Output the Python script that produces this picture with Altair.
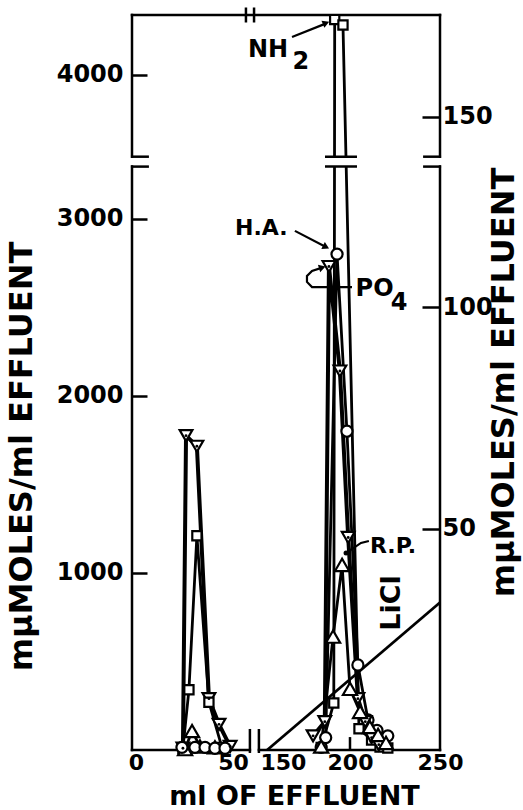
import altair as alt
import pandas as pd

# ---------------- values ----------------
# second peak (ml of effluent, mμmoles/ml on the left scale)
nh2_ml = [184, 191, 191.5, 196.1, 205, 212, 216.7, 221]
nh2_val = [15, 265, 4310, 4280, 120, 56, 17, 11]
ha_ml = [184, 186.5, 192.8, 198.3, 204.4, 210, 215, 221]
ha_val = [15, 70, 2800, 1800, 480, 170, 110, 80]
po4_ml = [179.5, 186, 188.3, 194.4, 199, 204.4, 208.5, 212, 216]
po4_val = [80, 160, 2730, 2140, 1200, 290, 160, 70, 30]
rp_ml = [184, 190.6, 195.6, 200, 205.6, 211, 215.6, 220]
rp_val = [20, 640, 1045, 345, 215, 130, 85, 40]

# first peak
p1_po4_ml = [24.2, 25.8, 31.4, 37.6, 42.8, 48.5]
p1_po4_val = [10, 1775, 1715, 290, 145, 20]
p1_nh2_ml = [24.2, 27.3, 31.4, 37.6, 44.3]
p1_nh2_val = [10, 340, 1210, 270, 15]
p1_rp_ml = [25.3, 28.9, 33, 40.7]
p1_rp_val = [5, 107, 20, 15]
p1_ha_ml = [23.7, 30.4, 35.6, 40.7, 45.9]
p1_ha_val = [15, 15, 15, 10, 10]

# LiCl gradient (right-hand scale)
licl_ml = [154, 250]
licl_val = [0, 33.3]

series_names = ["NH2", "HA", "PO4", "RP"]
series_shapes = ["square", "circle", "triangle-down", "triangle-up"]
series_sizes = [85, 200, 150, 150]

# tick values
left_ticks = [1000, 2000, 3000, 4000]
right_ticks = [50, 100, 150]
bottom_ticks_ml = [0, 50, 150, 200, 250]
bottom_inner_tick_ml = [200]

# ---------------- broken-axis geometry ----------------
LEFT_STRETCH = 1.078      # first segment (0-58 ml) drawn slightly wider
RIGHT_SHIFT = 81.1        # 150 ml sits just after the x break
ML_SPLIT = 100
V_BREAK = 3294            # top of lower y segment
V_GAP_HI = 3350           # bottom of upper y segment (display units)
V_SKIP = 186              # left-scale values skipped by the y break
RIGHT_FACTOR = 25         # right scale unit in left-scale units
RIGHT_SKIP = 174
U_MIN, U_MAX = -2.2, 168.9
V_MAX = 4150
U_GAP_LO, U_GAP_HI = 63.3, 68.3

U_EXPR = f"datum.ml < {ML_SPLIT} ? datum.ml * {LEFT_STRETCH} : datum.ml - {RIGHT_SHIFT}"
V_EXPR = f"datum.val <= {V_BREAK} ? datum.val : datum.val - {V_SKIP}"

FONT = "DejaVu Sans"

rows = []
def add(series, peak, mls, vals):
    for m, v in zip(mls, vals):
        rows.append({"series": series, "key": f"{series}-{peak}", "ml": m, "val": v})

add("NH2", 2, nh2_ml, nh2_val)
add("HA", 2, ha_ml, ha_val)
add("PO4", 2, po4_ml, po4_val)
add("RP", 2, rp_ml, rp_val)
add("PO4", 1, p1_po4_ml, p1_po4_val)
add("NH2", 1, p1_nh2_ml, p1_nh2_val)
add("RP", 1, p1_rp_ml, p1_rp_val)
add("HA", 1, p1_ha_ml, p1_ha_val)
series_df = pd.DataFrame(rows)

x_scale = alt.Scale(domain=[U_MIN, U_MAX], nice=False, zero=False)
y_scale = alt.Scale(domain=[0, V_MAX], nice=False, zero=False)

def ml_to_u(m):
    return m * LEFT_STRETCH if m < ML_SPLIT else m - RIGHT_SHIFT

def left_to_v(val):
    return val if val <= V_BREAK else val - V_SKIP

def right_to_v(r):
    v = r * RIGHT_FACTOR
    return v if v <= V_BREAK else v - RIGHT_SKIP

bottom_axis = alt.Axis(
    orient="bottom", values=[ml_to_u(m) for m in bottom_ticks_ml],
    labelExpr=f"datum.value < 60 ? round(datum.value / {LEFT_STRETCH}) : round(datum.value + {RIGHT_SHIFT})",
    labelAlign={"condition": {"test": "datum.value > 60 && datum.value < 80", "value": "left"}, "value": "center"},
    domain=False, ticks=False, grid=False, labelPadding=2,
    labelFont=FONT, labelFontSize=22, labelFontWeight="bold", labelColor="black",
    title="ml OF EFFLUENT", titleFont=FONT, titleFontSize=27, titleFontWeight="bold",
    titleColor="black", titleX=162, titleY=46, titleAlign="center", titleBaseline="middle",
)

left_axis = alt.Axis(
    orient="left", values=[left_to_v(t) for t in left_ticks],
    labelExpr=f"datum.value <= {V_BREAK} ? datum.value : datum.value + {V_SKIP}",
    domain=False, ticks=False, labelPadding=9, labelBaseline="middle",
    labelFont=FONT, labelFontSize=24, labelFontWeight="bold", labelColor="black",
    grid=True, gridColor="black", gridWidth=2.5, gridDash=[15, 2000], gridOpacity=1,
    title="mμMOLES/ml EFFLUENT", titleFont=FONT, titleFontSize=32, titleFontWeight="bold",
    titleColor="black", titleAngle=270, titleAlign="center", titleBaseline="middle",
    titleX=-111, titleY=441,
)

right_axis = alt.Axis(
    orient="right", values=[right_to_v(t) for t in right_ticks],
    labelExpr=f"datum.value <= {V_BREAK} ? round(datum.value / {RIGHT_FACTOR}) : round((datum.value + {RIGHT_SKIP}) / {RIGHT_FACTOR})",
    domain=False, ticks=False, labelPadding=2, labelBaseline="middle",
    labelFont=FONT, labelFontSize=24, labelFontWeight="bold", labelColor="black",
    grid=True, gridColor="black", gridWidth=2.5, gridDash=[18, 2000], gridOpacity=1,
    title="mμMOLES/ml EFFLUENT", titleFont=FONT, titleFontSize=32, titleFontWeight="bold",
    titleColor="black", titleAngle=270, titleAlign="center", titleBaseline="middle",
    titleX=63, titleY=367,
)

def X(field="u", axis=None):
    return alt.X(f"{field}:Q", scale=x_scale, axis=axis)

def Y(field="v", axis=None):
    return alt.Y(f"{field}:Q", scale=y_scale, axis=axis)

base = alt.Chart(series_df).transform_calculate(u=U_EXPR, v=V_EXPR)

lines = base.mark_line(color="black", strokeJoin="round").encode(
    x=X(axis=bottom_axis), y=Y(axis=left_axis),
    detail="key:N", order="ml:Q",
    strokeWidth={"condition": {"test": "datum.series == 'PO4'", "value": 4}, "value": 2.8},
)

points = base.mark_point(filled=True, fill="white", stroke="black", strokeWidth=2.2, opacity=1).encode(
    x=X(), y=Y(),
    shape=alt.Shape("series:N", scale=alt.Scale(domain=series_names, range=series_shapes), legend=None),
    size=alt.Size("series:N", scale=alt.Scale(domain=series_names, range=series_sizes), legend=None),
)

dots = base.transform_filter("datum.series == 'PO4'").mark_point(
    filled=True, color="black", shape="circle", size=8, opacity=1
).encode(x=X(), y=Y())

# y-break band and marks
band_df = pd.DataFrame({"u1": [U_MIN - 3], "u2": [U_MAX + 3], "v1": [V_BREAK], "v2": [V_GAP_HI]})
band = alt.Chart(band_df).mark_rect(color="white").encode(
    x=X("u1"), x2="u2", y=Y("v1"), y2="v2")

frame_df = pd.DataFrame([
    {"u1": U_MIN, "v1": 0, "u2": U_MIN, "v2": V_BREAK},
    {"u1": U_MIN, "v1": V_GAP_HI, "u2": U_MIN, "v2": V_MAX},
    {"u1": U_MAX, "v1": 0, "u2": U_MAX, "v2": V_BREAK},
    {"u1": U_MAX, "v1": V_GAP_HI, "u2": U_MAX, "v2": V_MAX},
    {"u1": U_MIN, "v1": 0, "u2": U_GAP_LO, "v2": 0},
    {"u1": U_GAP_HI, "v1": 0, "u2": U_MAX, "v2": 0},
    {"u1": U_MIN, "v1": V_MAX, "u2": U_MAX, "v2": V_MAX},
])
frame = alt.Chart(frame_df).mark_rule(color="black", strokeWidth=2.5, strokeCap="square").encode(
    x=X("u1"), x2="u2", y=Y("v1"), y2="v2")

hbreak_df = pd.DataFrame([
    {"u": U_MIN + 4.4, "v": V_BREAK, "len": 18}, {"u": U_MIN + 4.4, "v": V_GAP_HI, "len": 18},
    {"u": U_MAX - 4.4, "v": V_BREAK, "len": 18}, {"u": U_MAX - 4.4, "v": V_GAP_HI, "len": 18},
    {"u": 113.9, "v": V_BREAK, "len": 32}, {"u": 113.9, "v": V_GAP_HI, "len": 32},
])
hbreak = alt.Chart(hbreak_df).mark_tick(orient="horizontal", color="black", thickness=2.5, opacity=1).encode(
    x=X(), y=Y(), size=alt.Size("len:Q", scale=None))

vbreak_df = pd.DataFrame([
    {"u": U_GAP_LO, "v": 51, "len": 24}, {"u": U_GAP_HI, "v": 51, "len": 24},
    {"u": 61.1, "v": V_MAX, "len": 15}, {"u": 65.6, "v": V_MAX, "len": 15},
])
vbreak = alt.Chart(vbreak_df).mark_tick(orient="vertical", color="black", thickness=2.5, opacity=1).encode(
    x=X(), y=Y(), size=alt.Size("len:Q", scale=None))

inner_tick = alt.Chart(pd.DataFrame({"ml": bottom_inner_tick_ml})).transform_calculate(
    u=U_EXPR, v0="0", v1="73").mark_rule(color="black", strokeWidth=2.5).encode(
    x=X(), y=Y("v0"), y2="v1")

# LiCl line, carries the right-hand axis
licl_df = pd.DataFrame({"ml": licl_ml, "r": licl_val})
licl = alt.Chart(licl_df).transform_calculate(
    u=U_EXPR, v=f"datum.r * {RIGHT_FACTOR}").mark_line(color="black", strokeWidth=2.8).encode(
    x=X(), y=Y(axis=right_axis))

# annotations (display units)
ann_df = pd.DataFrame([
    {"u": 62.2, "v": 3953, "text": "NH", "fs": 24},
    {"u": 87.0, "v": 3885, "text": "2", "fs": 24},
    {"u": 55.0, "v": 2947, "text": "H.A.", "fs": 22},
    {"u": 122.0, "v": 2603, "text": "PO", "fs": 24},
    {"u": 141.5, "v": 2525, "text": "4", "fs": 24},
    {"u": 130.0, "v": 1152, "text": "R.P.", "fs": 22},
])
ann = alt.Chart(ann_df).mark_text(font=FONT, fontWeight="bold", align="left", baseline="middle", color="black").encode(
    x=X(), y=Y(), text="text:N", size=alt.Size("fs:Q", scale=None))

licl_lab = alt.Chart(pd.DataFrame({"u": [142.2], "v": [830], "text": ["LiCl"]})).mark_text(
    font=FONT, fontWeight="bold", fontSize=27, angle=270, align="center", baseline="middle", color="black"
).encode(x=X(), y=Y(), text="text:N")

leader_df = pd.DataFrame([
    {"id": "nh2", "i": 0, "u": 86.7, "v": 4026}, {"id": "nh2", "i": 1, "u": 105.0, "v": 4100},
    {"id": "ha", "i": 0, "u": 88.3, "v": 2931}, {"id": "ha", "i": 1, "u": 105.0, "v": 2843},
    {"id": "po4", "i": 0, "u": 120.0, "v": 2614}, {"id": "po4", "i": 1, "u": 97.8, "v": 2614},
    {"id": "po4", "i": 2, "u": 95.0, "v": 2643}, {"id": "po4", "i": 3, "u": 95.0, "v": 2676},
    {"id": "po4", "i": 4, "u": 97.8, "v": 2705}, {"id": "po4", "i": 5, "u": 103.0, "v": 2722},
    {"id": "rp", "i": 0, "u": 129.4, "v": 1180}, {"id": "rp", "i": 1, "u": 125.0, "v": 1169},
    {"id": "rp", "i": 2, "u": 116.7, "v": 1112},
])
leaders = alt.Chart(leader_df).mark_line(color="black", strokeWidth=2.2).encode(
    x=X(), y=Y(), detail="id:N", order="i:Q")

head_df = pd.DataFrame([
    {"u": 105.6, "v": 4105, "ang": 68},
    {"u": 105.6, "v": 2840, "ang": 117},
    {"u": 103.5, "v": 2724, "ang": 73},
])
heads = alt.Chart(head_df).mark_point(shape="triangle-up", filled=True, color="black", size=60, opacity=1).encode(
    x=X(), y=Y(), angle=alt.Angle("ang:Q", scale=None))

rp_dot = alt.Chart(pd.DataFrame({"u": [116.7], "v": [1112]})).mark_point(
    shape="circle", filled=True, color="black", size=25, opacity=1).encode(x=X(), y=Y())

chart = alt.layer(
    lines, band, frame, hbreak, vbreak, inner_tick, licl, points, dots,
    leaders, heads, rp_dot, ann, licl_lab,
).resolve_scale(x="shared", y="shared").resolve_axis(x="independent", y="independent").properties(
    width=308, height=735,
    autosize=alt.AutoSizeParams(type="none"),
    padding={"left": 132, "top": 15, "right": 83, "bottom": 60},
).configure_view(stroke=None)

chart.save("out.html", embed_options={"renderer": "svg", "actions": False})
